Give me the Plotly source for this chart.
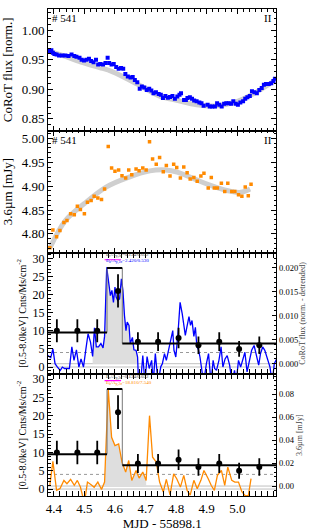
import plotly.graph_objects as go
from plotly.subplots import make_subplots

FONT = 'Liberation Serif'
BLUE = '#0000ff'
ORANGE = '#ff8a00'
TREND = '#cfcfcf'
FILL = '#dedede'

# CoRoT light curve, MJD - 55898.1
corot_mjd = [4.382, 4.387, 4.392, 4.397, 4.402, 4.409, 4.417, 4.428, 4.438, 4.448,
             4.458, 4.467, 4.474, 4.484, 4.491, 4.499, 4.507, 4.515, 4.522, 4.530,
             4.538, 4.545, 4.552, 4.561, 4.569, 4.576, 4.581, 4.589, 4.596, 4.604,
             4.612, 4.620, 4.627, 4.634, 4.642, 4.651, 4.658, 4.665, 4.673, 4.681,
             4.688, 4.696, 4.704, 4.712, 4.719, 4.726, 4.734, 4.743, 4.750, 4.757,
             4.765, 4.773, 4.780, 4.788, 4.796, 4.804, 4.811, 4.816, 4.826, 4.832,
             4.837, 4.845, 4.852, 4.859, 4.867, 4.876, 4.883, 4.890, 4.903, 4.910,
             4.918, 4.927, 4.934, 4.941, 4.949, 4.957, 4.964, 4.972, 4.980, 4.987,
             4.995, 5.002, 5.010, 5.019, 5.026, 5.033, 5.041, 5.048, 5.056, 5.064,
             5.072, 5.080, 5.087, 5.094, 5.103, 5.111, 5.118, 5.123]
corot_flux = [0.965, 0.965, 0.966, 0.962, 0.960, 0.959, 0.9575, 0.9575, 0.9575, 0.9565,
              0.959, 0.9565, 0.955, 0.9535, 0.950, 0.949, 0.950, 0.952, 0.948, 0.946,
              0.950, 0.942, 0.943, 0.942, 0.9445, 0.9535, 0.9445, 0.942, 0.943, 0.938,
              0.935, 0.936, 0.935, 0.926, 0.922, 0.920, 0.921, 0.916, 0.912, 0.901,
              0.905, 0.903, 0.899, 0.901, 0.898, 0.8935, 0.895, 0.892, 0.891, 0.8855,
              0.889, 0.886, 0.887, 0.889, 0.884, 0.888, 0.891, 0.8935, 0.882, 0.882,
              0.8855, 0.8865, 0.884, 0.881, 0.880, 0.878, 0.8765, 0.8725, 0.874, 0.871,
              0.871, 0.871, 0.8765, 0.874, 0.871, 0.8755, 0.8765, 0.8765, 0.8755, 0.880,
              0.8755, 0.874, 0.878, 0.880, 0.884, 0.8865, 0.889, 0.897, 0.895, 0.8935,
              0.899, 0.9025, 0.908, 0.909, 0.909, 0.9105, 0.914, 0.918]
corot_trend_mjd = [4.382, 4.430, 4.489, 4.550, 4.591, 4.673, 4.744, 4.806, 4.867, 4.929, 4.990, 5.051, 5.123]
corot_trend = [0.965, 0.957, 0.946, 0.937, 0.930, 0.909, 0.889, 0.881, 0.874, 0.872, 0.878, 0.892, 0.915]

# Spitzer IRAC 3.6um
irac_mjd = [4.387, 4.397, 4.409, 4.420, 4.433, 4.443, 4.455, 4.467, 4.477, 4.487,
            4.500, 4.510, 4.522, 4.532, 4.544, 4.556, 4.566, 4.578, 4.589, 4.600,
            4.612, 4.623, 4.635, 4.645, 4.655, 4.669, 4.679, 4.691, 4.702, 4.713,
            4.723, 4.735, 4.746, 4.758, 4.768, 4.780, 4.792, 4.802, 4.814, 4.825,
            4.836, 4.846, 4.858, 4.869, 4.881, 4.891, 4.905, 4.915, 4.925, 4.935,
            4.948, 4.959, 4.969, 4.982, 4.992, 5.004, 5.015, 5.026, 5.036, 5.045]
irac_flux = [4.771, 4.808, 4.794, 4.807, 4.824, 4.828, 4.842, 4.840, 4.858, 4.851,
             4.842, 4.866, 4.870, 4.879, 4.875, 4.872, 4.894, 4.983, 4.938, 4.931,
             4.934, 4.922, 4.917, 4.934, 4.924, 4.936, 4.932, 4.938, 4.934, 4.993,
             4.957, 4.946, 4.960, 4.930, 4.943, 4.921, 4.946, 4.939, 4.917, 4.940,
             4.928, 4.915, 4.918, 4.910, 4.921, 4.927, 4.896, 4.918, 4.896, 4.896,
             4.906, 4.889, 4.906, 4.889, 4.889, 4.882, 4.879, 4.898, 4.880, 4.904]
irac_trend_mjd = [4.387, 4.438, 4.499, 4.571, 4.642, 4.714, 4.765, 4.806, 4.867, 4.929, 4.980, 5.011, 5.042]
irac_trend = [4.770, 4.828, 4.863, 4.898, 4.918, 4.932, 4.934, 4.929, 4.913, 4.898, 4.889, 4.887, 4.894]
irac_resid = [0.0006, 0.0215, -0.0037, -0.0023, 0.0049, 0.0020, 0.0058, 0.0006, 0.0049, -0.0009,
              -0.0150, 0.0035, 0.0012, -0.0010, 0.0035, -0.0030, 0.0035, 0.0846, 0.0426, 0.0354,
              0.0368, 0.0209, 0.0122, 0.0223, 0.0049, 0.0136, 0.0070, 0.0122, 0.0049, 0.0615,
              0.0252, 0.0209, 0.0035, -0.0052, 0.0058, -0.0078, 0.0107, 0.0064, -0.0009, 0.0093,
              -0.0038, -0.0080, 0.0050, -0.0023, 0.0050, 0.0136, 0.0064, 0.0005, -0.0038, 0.0093,
              0.0136, 0.0005, 0.0165, 0.0050, 0.0035, 0.0035, -0.0050, -0.0085, -0.0085, 0.0064]

# CoRoT detrended flux
corot_res_mjd = [4.377, 4.384, 4.390, 4.397, 4.404, 4.412, 4.421, 4.428, 4.435, 4.443,
                 4.451, 4.459, 4.466, 4.474, 4.482, 4.489, 4.497, 4.505, 4.512, 4.520,
                 4.527, 4.533, 4.539, 4.546, 4.554, 4.561, 4.566, 4.573, 4.580, 4.585,
                 4.590, 4.595, 4.600, 4.604, 4.609, 4.615, 4.621, 4.626, 4.631, 4.636,
                 4.640, 4.646, 4.650, 4.657, 4.662, 4.669, 4.674, 4.677, 4.684, 4.691,
                 4.698, 4.705, 4.712, 4.720, 4.725, 4.732, 4.741, 4.750, 4.755, 4.762,
                 4.768, 4.775, 4.783, 4.789, 4.793, 4.799, 4.806, 4.813, 4.820, 4.825,
                 4.830, 4.835, 4.842, 4.847, 4.852, 4.858, 4.863, 4.868, 4.873, 4.878,
                 4.883, 4.890, 4.899, 4.906, 4.914, 4.921, 4.926, 4.932, 4.940, 4.947,
                 4.953, 4.960, 4.967, 4.975, 4.983, 4.991, 4.996, 5.004, 5.011, 5.019,
                 5.025, 5.032, 5.039, 5.047, 5.055, 5.063, 5.070, 5.076, 5.083, 5.090,
                 5.099, 5.107, 5.114, 5.121, 5.129]
corot_resid = [0.0019, 0.0015, 0.00125, 0.0031, 0.0, -0.0007, -0.0014, -0.0007, -0.001, -0.001,
               -0.001, 0.0035, 0.0007, 0.0029, -0.0007, 0.001, -0.0007, 0.0031, 0.00625, 0.0045,
               0.0015, 0.0075, 0.0035, 0.0035, 0.0042, 0.0033, 0.0057, 0.0201, 0.0170, 0.0142,
               0.0153, 0.0128, 0.0160, 0.0139, 0.0132, 0.0135, 0.0177, 0.0153, 0.0101, 0.0069,
               0.0087, 0.0080, 0.0042, 0.0055, 0.0029, 0.0028, 0.0014, -0.004, -0.004, 0.0017,
               -0.004, 0.0015, -0.001, 0.0007, -0.004, 0.0021, -0.004, -0.0006, 0.0, 0.0021,
               0.0007, 0.0028, 0.0049, 0.0069, 0.0028, 0.0014, 0.0063, 0.0128, 0.0104, 0.0080,
               0.0059, 0.0076, 0.0098, 0.0080, 0.0090, 0.0057, 0.0076, 0.0035, 0.0029, 0.0014,
               -0.0007, -0.004, 0.0, 0.0021, -0.004, 0.0007, -0.001, -0.0014, 0.0007, 0.0035,
               -0.0007, 0.001, 0.0017, -0.0003, -0.004, -0.0014, -0.004, 0.0007, -0.0007, 0.0014,
               0.0024, -0.0017, 0.0007, 0.0028, 0.0038, 0.0014, -0.0003, 0.0021, 0.0035, 0.0028,
               0.001, -0.0007, -0.004, 0.0, 0.001]

# X-ray light curve [0.5-8.0 keV]
xray_mjd = [4.410, 4.477, 4.542, 4.610, 4.675, 4.741, 4.808, 4.873, 4.941, 5.006, 5.072]
xray_rate = [10, 10, 10, 21, 7, 7, 8, 6, 7, 5, 6]
xray_err = [3.2, 3.2, 3.2, 4.6, 2.6, 2.6, 2.8, 2.4, 2.6, 2.2, 2.4]
block_edges = [4.381, 4.574, 4.624, 5.128]
block_rates = [9.5, 27.3, 6.5]
xray_limit = 4.0
flare_window_corot = [4.527, 4.674]
flare_window_irac = [4.544, 4.702]

x_tickvals = [4.4, 4.5, 4.6, 4.7, 4.8, 4.9, 5.0, 5.1]
x_ticktext = ['4.4', '4.5', '4.6', '4.7', '4.8', '4.9', '5.0', '']

fig = make_subplots(rows=4, cols=1, shared_xaxes=True, vertical_spacing=0,
                    specs=[[{}], [{}], [{'secondary_y': True}], [{'secondary_y': True}]])

# panel 1 / 2: light curves with trend
fig.add_trace(go.Scatter(x=corot_trend_mjd, y=corot_trend, mode='lines',
                         line=dict(color=TREND, width=5, shape='spline')), row=1, col=1)
fig.add_trace(go.Scatter(x=corot_mjd, y=corot_flux, mode='markers',
                         marker=dict(symbol='square', size=4, color=BLUE)), row=1, col=1)
fig.add_trace(go.Scatter(x=irac_trend_mjd, y=irac_trend, mode='lines',
                         line=dict(color=TREND, width=5, shape='spline')), row=2, col=1)
fig.add_trace(go.Scatter(x=irac_mjd, y=irac_flux, mode='markers',
                         marker=dict(symbol='square', size=3.5, color=ORANGE)), row=2, col=1)

# blocks
seg_x, seg_y = [], []
for i, rate in enumerate(block_rates):
    seg_x += [block_edges[i], block_edges[i + 1], None]
    seg_y += [rate, rate, None]
box_x = [block_edges[1], block_edges[1], None, block_edges[2], block_edges[2]]
box_y = [block_rates[0], block_rates[1], None, block_rates[1], block_rates[2]]

for row, rx, ry, color, window in [(3, corot_res_mjd, corot_resid, BLUE, flare_window_corot),
                                   (4, irac_mjd, irac_resid, ORANGE, flare_window_irac)]:
    fx = [x for x in rx if window[0] <= x <= window[1]]
    fy = [y for x, y in zip(rx, ry) if window[0] <= x <= window[1]]
    fig.add_trace(go.Scatter(x=fx, y=fy, mode='lines', fill='tozeroy', fillcolor=FILL,
                             line=dict(width=0)), row=row, col=1, secondary_y=False)
    fig.add_trace(go.Scatter(x=rx, y=ry, mode='lines', line=dict(color=color, width=1.3)),
                  row=row, col=1, secondary_y=False)
    fig.add_trace(go.Scatter(x=box_x, y=box_y, mode='lines', line=dict(color='#777777', width=1)),
                  row=row, col=1, secondary_y=True)
    fig.add_trace(go.Scatter(x=seg_x, y=seg_y, mode='lines', line=dict(color='black', width=2)),
                  row=row, col=1, secondary_y=True)
    fig.add_trace(go.Scatter(x=xray_mjd, y=xray_rate, mode='markers',
                             marker=dict(size=6, color='black'),
                             error_y=dict(type='data', array=xray_err, color='black', thickness=1.8, width=0)),
                  row=row, col=1, secondary_y=True)

# reference lines
for xr, yl, yr in [('x3', 'y4', 'y3'), ('x4', 'y6', 'y5')]:
    fig.add_shape(type='line', xref=xr + ' domain', x0=0, x1=1, yref=yl, y0=0, y1=0,
                  line=dict(color='#c0c0c0', width=1), layer='below')
    fig.add_shape(type='line', xref=xr + ' domain', x0=0, x1=1, yref=yr, y0=0, y1=0,
                  line=dict(color='#c0c0c0', width=1), layer='below')
    fig.add_shape(type='line', xref=xr + ' domain', x0=0, x1=1, yref=yl, y0=xray_limit, y1=xray_limit,
                  line=dict(color='#999999', width=1, dash='dot'), layer='below')
    fig.add_shape(type='line', xref=xr, x0=4.566, x1=4.620, yref=yl, y0=29.6, y1=29.6,
                  line=dict(color='magenta', width=1.2))

fig.add_annotation(x=4.563, y=30.9, xref='x3', yref='y4', xanchor='left', showarrow=False,
                   text='E<sub>c</sub>/A<sub>p,2σ</sub>=0.134/0.032', font=dict(size=5, color='#444444'))
fig.add_annotation(x=4.563, y=29.0, xref='x3', yref='y4', xanchor='left', showarrow=False,
                   text='E<sub>b</sub>/A<sub>p,2σ</sub>=2.420/0.530', font=dict(size=5, color=BLUE))
fig.add_annotation(x=4.563, y=30.6, xref='x4', yref='y6', xanchor='left', showarrow=False,
                   text='E<sub>c</sub>/A<sub>p,2σ</sub>=0.134/0.032', font=dict(size=5, color='#444444'))
fig.add_annotation(x=4.563, y=28.7, xref='x4', yref='y6', xanchor='left', showarrow=False,
                   text='E<sub>b</sub>/A<sub>p,2σ</sub>=18.810/7.540', font=dict(size=5, color=ORANGE))

for xr, yr in [('x', 'y'), ('x2', 'y2')]:
    fig.add_annotation(x=0.01, y=0.99, xref=xr + ' domain', yref=yr + ' domain', xanchor='left',
                       yanchor='top', showarrow=False, text='# 541', font=dict(size=11))
    fig.add_annotation(x=0.99, y=0.99, xref=xr + ' domain', yref=yr + ' domain', xanchor='right',
                       yanchor='top', showarrow=False, text='II', font=dict(size=11))

axis_style = dict(showline=True, linecolor='black', linewidth=1, ticks='inside', ticklen=5,
                  tickcolor='black', showgrid=False, zeroline=False, tickfont=dict(size=13),
                  automargin=False)
fig.update_xaxes(**axis_style, mirror='allticks', range=[4.381, 5.128],
                 tickvals=x_tickvals, ticktext=x_ticktext,
                 minor=dict(ticks='inside', ticklen=2.5, dtick=0.02, tick0=4.4, tickcolor='black'))
fig.update_xaxes(title_text='MJD - 55898.1', title_font=dict(size=13), title_standoff=0, row=4, col=1)

fig.update_yaxes(**axis_style, mirror='allticks', range=[0.830, 1.036], dtick=0.05, tick0=0.85,
                 tickformat='.2f', minor=dict(ticks='inside', ticklen=2.5, dtick=0.01, tickcolor='black'),
                 title_text='CoRoT flux [norm.]', title_font=dict(size=13), row=1, col=1)
fig.update_yaxes(**axis_style, mirror='allticks', range=[4.761, 5.016], dtick=0.05, tick0=4.8,
                 tickformat='.2f', minor=dict(ticks='inside', ticklen=2.5, dtick=0.01, tickcolor='black'),
                 title_text='3.6µm [mJy]', title_font=dict(size=13), row=2, col=1)

left_title = '[0.5-8.0keV] Cnts/Ms/cm<sup>-2</sup>'
for row, lrange, rrange, rdtick, rfmt, rtitle in [
        (3, [-2.0, 31.6], [-0.0022, 0.0232], 0.005, '.3f', 'CoRoT flux (norm. - detrended)'),
        (4, [-1.9, 31.36], [-0.0087, 0.0977], 0.02, '.2f', '3.6µm [mJy]')]:
    fig.update_yaxes(**axis_style, side='left', range=lrange, dtick=5, tick0=0,
                     minor=dict(ticks='inside', ticklen=2.5, dtick=1, tickcolor='black'),
                     title_text=left_title, title_font=dict(size=10), title_standoff=4,
                     row=row, col=1, secondary_y=True)
    fig.update_yaxes(tickfont=dict(size=12), row=row, col=1, secondary_y=True)
    fig.update_yaxes(showline=True, linecolor='black', linewidth=1, ticks='inside', ticklen=4,
                     tickcolor='black', showgrid=False, zeroline=False, side='right', automargin=False,
                     range=rrange, dtick=rdtick, tick0=0, tickformat=rfmt, tickfont=dict(size=8.5),
                     minor=dict(ticks='inside', ticklen=2, dtick=rdtick / 5, tickcolor='black'),
                     title_text=rtitle, title_font=dict(size=8, color='#444444'), title_standoff=2,
                     row=row, col=1, secondary_y=False)

fig.update_layout(width=327, height=531, margin=dict(l=48, r=36, t=9, b=35),
                  plot_bgcolor='white', paper_bgcolor='white', showlegend=False,
                  font=dict(family=FONT, size=13, color='black'))
fig.write_html("out.html", config={'displayModeBar': False},
               post_script="document.body.style.margin='0';")
